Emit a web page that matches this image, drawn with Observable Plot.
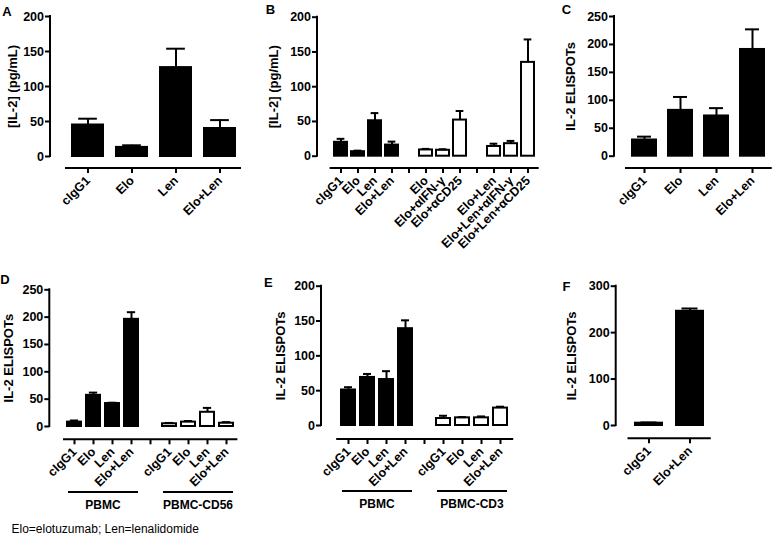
<!DOCTYPE html>
<html><head><meta charset="utf-8">
<script src="https://cdn.jsdelivr.net/npm/d3@7"></script>
<script src="https://cdn.jsdelivr.net/npm/@observablehq/plot@0.6"></script>
<style>
html,body{margin:0;padding:0;background:#fff;}
#root{position:relative;width:774px;height:540px;overflow:hidden;font-family:"Liberation Sans",Arial,sans-serif;}
</style></head><body><div id="root"></div>
<script>
// ---------------- data ----------------
// Panel A
const catsA = ["cIgG1","Elo","Len","Elo+Len"];
const valsA = [45, 13, 127, 40];
const errsA = [9, 3, 27, 12];
const groupA = [1, 1, 1, 1];
// Panel B (empty strings are spacer slots)
const catsB = ["cIgG1","Elo","Len","Elo+Len","","Elo","Elo+αIFN-γ","Elo+αCD25","","Elo+Len","Elo+Len+αIFN-γ","Elo+Len+αCD25"];
const valsB = [20, 6.5, 51, 16, null, 9, 8.5, 52, null, 14, 18, 135];
const errsB = [5, 1.5, 11, 5, null, 1.5, 1.5, 13, null, 4, 4, 33];
const groupB = [1, 1, 1, 1, null, 2, 2, 2, null, 3, 3, 3];
// Panel C
const catsC = ["cIgG1","Elo","Len","Elo+Len"];
const valsC = [29, 82, 72, 191];
const errsC = [6, 24, 14, 36];
const groupC = [1, 1, 1, 1];
// Panel D
const catsD = ["cIgG1","Elo","Len","Elo+Len","","cIgG1","Elo","Len","Elo+Len"];
const valsD = [8, 57, 42, 196, null, 5, 8, 26, 6];
const errsD = [3, 5, 1.5, 13, null, 1.5, 2, 8, 2];
const groupD = ["PBMC","PBMC","PBMC","PBMC",null,"PBMC-CD56","PBMC-CD56","PBMC-CD56","PBMC-CD56"];
// Panel E
const catsE = ["cIgG1","Elo","Len","Elo+Len","","cIgG1","Elo","Len","Elo+Len"];
const valsE = [51, 69, 66, 139, null, 10, 11, 11, 25];
const errsE = [4, 5, 12, 12, null, 4, 1, 2, 2];
const groupE = ["PBMC","PBMC","PBMC","PBMC",null,"PBMC-CD3","PBMC-CD3","PBMC-CD3","PBMC-CD3"];
// Panel F
const catsF = ["cIgG1","Elo+Len"];
const valsF = [5, 246];
const errsF = [1.5, 6];
const groupF = [1, 1];

const yLabelIL2 = "[IL-2] (pg/mL)";
const yLabelSpots = "IL-2 ELISPOTs";
const footnote = "Elo=elotuzumab; Len=lenalidomide";

// ---------------- layout ----------------
const W = 774, H = 540;
const FONT = "'Liberation Sans', Arial, Helvetica, sans-serif";
const panels = [
  {letter:"A", lx:7, ly:15.5, cats:catsA, vals:valsA, errs:errsA, groups:groupA, solid:g => true,
   yDomain:[0,200], yTicks:[0,50,100,150,200], yLabel:yLabelIL2,
   ax:50, yr:[156,16], xAxisY:168, xr:[65,241], pad:0.3, labelLeft:7},
  {letter:"B", lx:270.5, ly:13.5, cats:catsB, vals:valsB, errs:errsB, groups:groupB, solid:g => g === 1,
   yDomain:[0,200], yTicks:[0,50,100,150,200], yLabel:yLabelIL2,
   ax:317, yr:[155.7,16.7], xAxisY:168, xr:[329.6,538.7], pad:0.24, labelLeft:268.5},
  {letter:"C", lx:566.5, ly:13.5, cats:catsC, vals:valsC, errs:errsC, groups:groupC, solid:g => true,
   yDomain:[0,250], yTicks:[0,50,100,150,200,250], yLabel:yLabelSpots,
   ax:614, yr:[155.7,16], xAxisY:168, xr:[625,771.7], pad:0.32, labelLeft:565},
  {letter:"D", lx:5, ly:283.5, cats:catsD, vals:valsD, errs:errsD, groups:groupD, solid:g => g === "PBMC",
   yDomain:[0,250], yTicks:[0,50,100,150,200,250], yLabel:yLabelSpots,
   ax:49.3, yr:[426,289.3], xAxisY:439.3, xr:[63,237.4], pad:0.26, labelLeft:3, groupLineY:492},
  {letter:"E", lx:268.3, ly:287, cats:catsE, vals:valsE, errs:errsE, groups:groupE, solid:g => g === "PBMC",
   yDomain:[0,200], yTicks:[0,50,100,150,200], yLabel:yLabelSpots,
   ax:321, yr:[425,285.7], xAxisY:439, xr:[336.2,513.2], pad:0.24, labelLeft:275, groupLineY:491},
  {letter:"F", lx:566.5, ly:291, cats:catsF, vals:valsF, errs:errsF, groups:groupF, solid:g => true,
   yDomain:[0,300], yTicks:[0,100,200,300], yLabel:yLabelSpots,
   ax:615.7, yr:[425,285.7], xAxisY:438.3, xr:[627.5,710.8], pad:0.34, labelLeft:566.5}
];

const root = document.getElementById("root");

function drawPanel(p) {
  const n = p.cats.length;
  const rows = p.cats.map((c, i) => ({i, v: p.vals[i], e: p.errs[i], g: p.groups[i]}))
                     .filter(d => d.v != null);
  const step = (p.xr[1] - p.xr[0]) / n;
  const bw = step * (1 - p.pad);
  const capInset = bw * 0.2;
  const yMid = (p.yr[0] + p.yr[1]) / 2;
  const marginTop = 2 * yMid - p.xAxisY;
  const chart = Plot.plot({
    width: W, height: H,
    marginLeft: p.ax, marginRight: W - p.xr[1], marginTop, marginBottom: H - p.xAxisY,
    style: {background: "transparent", position: "absolute", left: "0px", top: "0px", overflow: "visible", fontFamily: FONT, color: "black"},
    x: {type: "band", domain: d3.range(n), range: p.xr, paddingInner: p.pad, paddingOuter: p.pad / 2, align: 0.5},
    y: {type: "linear", domain: p.yDomain, range: p.yr},
    marks: [
      Plot.barY(rows, {x: "i", y: "v", fill: d => p.solid(d.g) ? "black" : "white", stroke: "black", strokeWidth: 2}),
      Plot.ruleX(rows, {x: "i", y1: "v", y2: d => d.v + d.e, stroke: "black", strokeWidth: 2}),
      Plot.tickY(rows, {x: "i", y: d => d.v + d.e, stroke: "black", strokeWidth: 2, insetLeft: capInset, insetRight: capInset}),
      Plot.axisY({ticks: p.yTicks, tickSize: 5, tickPadding: 1.5, strokeWidth: 2, fontSize: 12.5, fontWeight: "bold", label: null}),
      Plot.axisX({tickSize: 5, tickPadding: 5, tickRotate: -45, tickFormat: i => p.cats[i], strokeWidth: 2, fontSize: 12.5, fontWeight: "bold", label: null}),
      Plot.text([p.yLabel], {frameAnchor: "left", rotate: -90, textAnchor: "middle", lineAnchor: "top",
        dx: -(p.ax - p.labelLeft), fontSize: 13, fontWeight: "bold", fill: "black"})
    ]
  });
  root.appendChild(chart);
  const svg = d3.select(chart);
  const ys = chart.scale("y");
  // y axis line
  svg.append("line")
    .attr("x1", p.ax).attr("x2", p.ax)
    .attr("y1", ys.apply(p.yDomain[0]) + 1).attr("y2", ys.apply(p.yDomain[1]) - 1)
    .attr("stroke", "black").attr("stroke-width", 2);
  // x axis line
  svg.append("line")
    .attr("x1", p.xr[0]).attr("x2", p.xr[1])
    .attr("y1", p.xAxisY).attr("y2", p.xAxisY)
    .attr("stroke", "black").attr("stroke-width", 2);
  // group underlines + labels
  if (p.groupLineY) {
    const xs = chart.scale("x");
    const names = [...new Set(p.groups.filter(g => g != null))];
    for (const name of names) {
      const idx = p.groups.map((g, i) => g === name ? i : -1).filter(i => i >= 0);
      const x0 = xs.apply(idx[0]) + 1;
      const x1 = xs.apply(idx[idx.length - 1]) + xs.bandwidth;
      svg.append("line").attr("x1", x0).attr("x2", x1)
        .attr("y1", p.groupLineY).attr("y2", p.groupLineY)
        .attr("stroke", "black").attr("stroke-width", 2);
      svg.append("text").attr("x", (x0 + x1) / 2).attr("y", p.groupLineY + 16.5)
        .attr("text-anchor", "middle").attr("font-size", 12).attr("font-weight", "bold")
        .attr("font-family", FONT).attr("fill", "black").text(name);
    }
  }
  // panel letter
  svg.append("text").attr("x", p.lx).attr("y", p.ly)
    .attr("font-size", 13).attr("font-weight", "bold").attr("font-family", FONT)
    .attr("fill", "black").text(p.letter);
}

panels.forEach(drawPanel);

// footnote
const note = d3.select(root).append("svg")
  .attr("width", W).attr("height", H)
  .style("position", "absolute").style("left", "0px").style("top", "0px");
note.append("text").attr("x", 11.5).attr("y", 532.5)
  .attr("font-size", 12).attr("font-family", FONT).attr("fill", "black").text(footnote);
</script>
</body></html>
